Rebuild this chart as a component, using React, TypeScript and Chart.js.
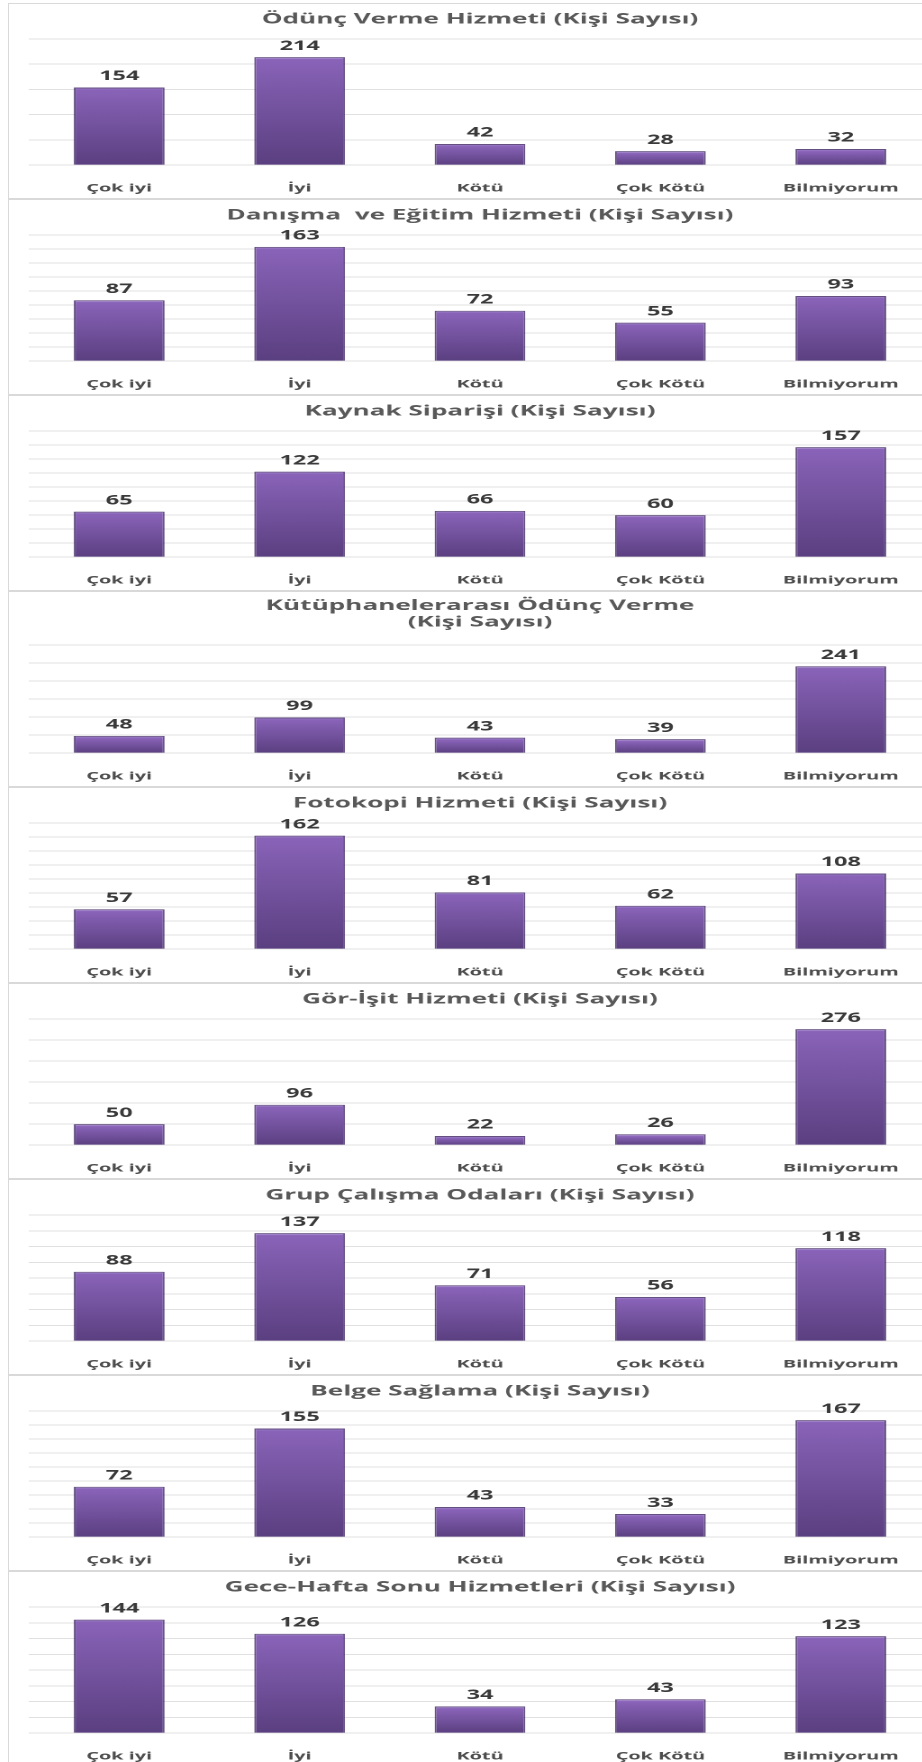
import React, { useEffect, useRef } from 'react';
import { Chart, registerables } from 'chart.js';

Chart.register(...registerables);

// ---------- data ----------
const categories = ['Çok iyi', 'İyi', 'Kötü', 'Çok Kötü', 'Bilmiyorum'];

const titleOdunc = ['Ödünç Verme Hizmeti (Kişi Sayısı)'];
const titleDanisma = ['Danışma  ve Eğitim Hizmeti (Kişi Sayısı)'];
const titleKaynak = ['Kaynak Siparişi (Kişi Sayısı)'];
const titleKutuphaneler = ['Kütüphanelerarası Ödünç Verme', '(Kişi Sayısı)'];
const titleFotokopi = ['Fotokopi Hizmeti (Kişi Sayısı)'];
const titleGorIsit = ['Gör-İşit Hizmeti (Kişi Sayısı)'];
const titleGrup = ['Grup Çalışma Odaları (Kişi Sayısı)'];
const titleBelge = ['Belge Sağlama (Kişi Sayısı)'];
const titleGece = ['Gece-Hafta Sonu Hizmetleri (Kişi Sayısı)'];

const oduncVerme = [154, 214, 42, 28, 32];
const danismaEgitim = [87, 163, 72, 55, 93];
const kaynakSiparisi = [65, 122, 66, 60, 157];
const kutuphanelerarasi = [48, 99, 43, 39, 241];
const fotokopi = [57, 162, 81, 62, 108];
const gorIsit = [50, 96, 22, 26, 276];
const grupCalisma = [88, 137, 71, 56, 118];
const belgeSaglama = [72, 155, 43, 33, 167];
const geceHaftaSonu = [144, 126, 34, 43, 123];

const axisMax = [250, 180, 180, 300, 180, 300, 160, 180, 160];
const axisStep = [50, 20, 20, 50, 20, 50, 20, 20, 20];

const titles = [titleOdunc, titleDanisma, titleKaynak, titleKutuphaneler, titleFotokopi, titleGorIsit, titleGrup, titleBelge, titleGece];
const seriesList = [oduncVerme, danismaEgitim, kaynakSiparisi, kutuphanelerarasi, fotokopi, gorIsit, grupCalisma, belgeSaglama, geceHaftaSonu];

// ---------- layout ----------
const FINAL_W = 944;
const LOGICAL_W = 524;
const S = FINAL_W / LOGICAL_W;
const CANVAS_H = 202;
const PANEL_STEP = 196;
const PANEL_TOP0 = 3;
const FONT = '"Open Sans", "DejaVu Sans", sans-serif';

const valueLabels = {
  id: 'valueLabels',
  afterDatasetsDraw(chart: any) {
    const ctx = chart.ctx;
    const meta = chart.getDatasetMeta(0);
    const data = chart.data.datasets[0].data;
    ctx.save();
    ctx.font = 'bold 13px ' + FONT;
    ctx.fillStyle = '#3a3a3a';
    ctx.textAlign = 'center';
    ctx.textBaseline = 'middle';
    meta.data.forEach((bar: any, i: number) => {
      ctx.fillText(String(data[i]), bar.x, bar.y - 11);
    });
    ctx.restore();
  },
};

function barFill(c: any) {
  const chart = c.chart;
  if (!chart.chartArea || c.type !== 'data') return '#7453a0';
  const y = chart.scales.y;
  const top = y.getPixelForValue(c.raw as number);
  const base = y.getPixelForValue(0);
  const g = chart.ctx.createLinearGradient(0, top, 0, base);
  g.addColorStop(0, '#a78bd3');
  g.addColorStop(Math.min(0.5, 2.5 / Math.max(1, base - top)), '#8963b8');
  g.addColorStop(1, '#5a3f80');
  return g;
}

function Panel({ index }: { index: number }) {
  const ref = useRef<HTMLCanvasElement | null>(null);
  const lines = titles[index];
  const twoLine = lines.length > 1;

  useEffect(() => {
    if (!ref.current) return;
    const chart = new Chart(ref.current, {
      type: 'bar',
      data: {
        labels: categories,
        datasets: [
          {
            data: seriesList[index],
            backgroundColor: barFill,
            borderColor: 'rgba(72,48,106,0.85)',
            borderWidth: 1,
            borderSkipped: 'bottom',
            categoryPercentage: 1,
            barPercentage: 0.503,
          },
        ],
      },
      options: {
        animation: false,
        responsive: false,
        devicePixelRatio: 2,
        layout: { padding: { left: 21 / S, right: 21 / S, top: 0, bottom: 1.6 } },
        plugins: {
          legend: { display: false },
          tooltip: { enabled: false },
          title: {
            display: true,
            text: lines,
            color: '#595959',
            font: { family: FONT, weight: 'bold', size: 14.5, lineHeight: 1.15 },
            padding: twoLine ? { top: 6.6, bottom: 14 } : { top: 8, bottom: 11.3 },
          },
        },
        scales: {
          x: {
            grid: { display: false },
            border: { display: false },
            ticks: {
              color: '#4d4d4d',
              font: { family: FONT, weight: 'bold', size: 11, lineHeight: 1.2 },
              padding: 8.5,
              maxRotation: 0,
              autoSkip: false,
            },
          },
          y: {
            min: 0,
            max: axisMax[index],
            border: { display: false },
            grid: { color: '#e0e0e0', lineWidth: 1, drawTicks: false },
            ticks: { display: false, stepSize: axisStep[index] },
          },
        },
      },
      plugins: [valueLabels],
    });
    return () => chart.destroy();
  }, [index]);

  const top = PANEL_TOP0 + PANEL_STEP * index;
  return (
    <>
      <div
        style={{
          position: 'absolute',
          left: 8,
          top,
          width: 1000,
          height: PANEL_STEP - 2,
          border: '1px solid #d9d9d9',
          borderRight: 'none',
          boxSizing: 'content-box',
        }}
      />
      <canvas
        ref={ref}
        width={LOGICAL_W}
        height={CANVAS_H}
        style={{
          position: 'absolute',
          left: 8,
          top,
          width: LOGICAL_W,
          height: CANVAS_H,
          transform: `scaleX(${S})`,
          transformOrigin: '0 0',
        }}
      />
    </>
  );
}

export default function App() {
  return (
    <div
      style={{
        position: 'absolute',
        left: 0,
        top: 0,
        width: 922,
        height: 1762,
        overflow: 'hidden',
        background: '#ffffff',
      }}
    >
      {titles.map((_, i) => (
        <Panel key={i} index={i} />
      ))}
    </div>
  );
}
